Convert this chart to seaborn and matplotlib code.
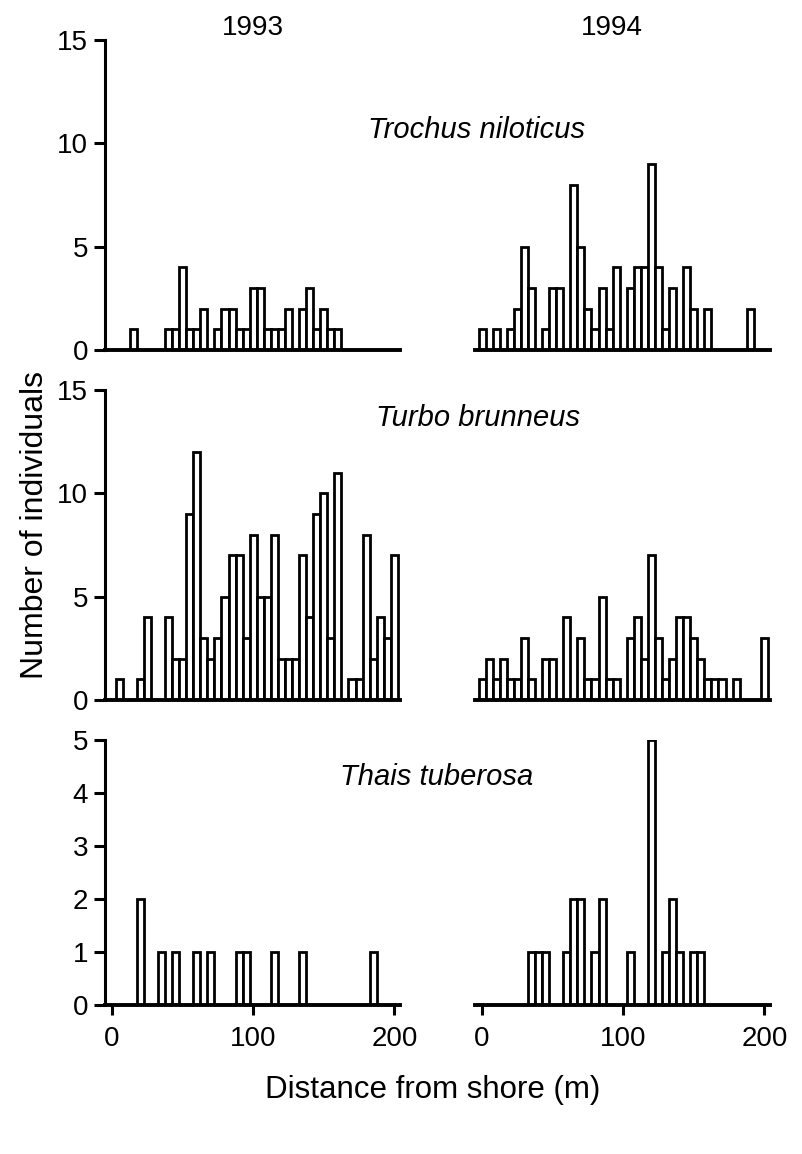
import matplotlib
matplotlib.use("Agg")
import matplotlib.pyplot as plt
import seaborn as sns
import pandas as pd

# ---- data (bins are 5 m classes, 0..200 m) ----
bins = [0, 5, 10, 15, 20, 25, 30, 35, 40, 45, 50, 55, 60, 65, 70, 75, 80, 85, 90, 95,
        100, 105, 110, 115, 120, 125, 130, 135, 140, 145, 150, 155, 160, 165, 170, 175,
        180, 185, 190, 195, 200]

trochus_1993 = [0, 0, 0, 1, 0, 0, 0, 0, 1, 1, 4, 1, 1, 2, 0, 1, 2, 2, 1, 1,
                3, 3, 1, 1, 1, 2, 0, 2, 3, 1, 2, 1, 1, 0, 0, 0, 0, 0, 0, 0, 0]
trochus_1994 = [1, 0, 1, 0, 1, 2, 5, 3, 0, 1, 3, 3, 0, 8, 5, 2, 1, 3, 1, 4,
                0, 3, 4, 4, 9, 4, 1, 3, 0, 4, 2, 0, 2, 0, 0, 0, 0, 0, 2, 0, 0]
turbo_1993 = [0, 1, 0, 0, 1, 4, 0, 0, 4, 2, 2, 9, 12, 3, 2, 3, 5, 7, 7, 3,
              8, 5, 5, 8, 2, 2, 2, 7, 4, 9, 10, 3, 11, 0, 1, 1, 8, 2, 4, 3, 7]
turbo_1994 = [1, 2, 1, 2, 1, 1, 3, 1, 0, 2, 2, 0, 4, 0, 3, 1, 1, 5, 1, 1,
              0, 3, 4, 2, 7, 3, 1, 2, 4, 4, 3, 2, 1, 1, 1, 0, 1, 0, 0, 0, 3]
thais_1993 = [0, 0, 0, 0, 2, 0, 0, 1, 0, 1, 0, 0, 1, 0, 1, 0, 0, 0, 1, 1,
              0, 0, 0, 1, 0, 0, 0, 1, 0, 0, 0, 0, 0, 0, 0, 0, 0, 1, 0, 0, 0]
thais_1994 = [0, 0, 0, 0, 0, 0, 0, 1, 1, 1, 0, 0, 1, 2, 2, 0, 1, 2, 0, 0,
              0, 1, 0, 0, 5, 0, 1, 2, 1, 0, 1, 1, 0, 0, 0, 0, 0, 0, 0, 0, 0]

years = ["1993", "1994"]
species = ["Trochus niloticus", "Turbo brunneus", "Thais tuberosa"]
y_max = [15, 15, 5]
y_ticks = [[0, 5, 10, 15], [0, 5, 10, 15], [0, 1, 2, 3, 4, 5]]
x_ticks = [0, 100, 200]

series = [[trochus_1993, trochus_1994],
          [turbo_1993, turbo_1994],
          [thais_1993, thais_1994]]

# ---- style ----
sns.set_style("ticks")
plt.rcParams["font.family"] = ["Liberation Sans", "DejaVu Sans"]
plt.rcParams["text.color"] = "black"
plt.rcParams["axes.edgecolor"] = "black"
plt.rcParams["xtick.color"] = "black"
plt.rcParams["ytick.color"] = "black"
plt.rcParams["xtick.labelcolor"] = "black"
plt.rcParams["ytick.labelcolor"] = "black"

W, H = 803, 1154
fig = plt.figure(figsize=(W / 100, H / 100), dpi=100)

rows_px = [(40, 350), (390, 700), (740, 1005)]
cols_px = [105, 475]
width_px = 295

for r in range(3):
    top, bot = rows_px[r]
    for c in range(2):
        left = cols_px[c]
        ax = fig.add_axes([left / W, (H - bot) / H, width_px / W, (bot - top) / H])
        df = pd.DataFrame({"dist": bins, "n": series[r][c]})
        sns.barplot(data=df, x="dist", y="n", native_scale=True, width=1.0,
                    color="white", edgecolor="black", linewidth=2.0,
                    saturation=1, errorbar=None, ax=ax)
        ax.set_xlim(-5, 204)
        ax.set_ylim(0, y_max[r])
        ax.set_xlabel("")
        ax.set_ylabel("")
        ax.set_facecolor("none")
        for s in ["top", "right"]:
            ax.spines[s].set_visible(False)
        ax.spines["bottom"].set_linewidth(2.8)
        ax.spines["left"].set_linewidth(2.2)
        if c == 0:
            ax.set_yticks(y_ticks[r])
            ax.tick_params(axis="y", direction="out", length=8, width=2.2,
                           labelsize=20, pad=4)
        else:
            ax.spines["left"].set_visible(False)
            ax.set_yticks([])
        if r == 2:
            ax.set_xticks(x_ticks)
            ax.set_xticklabels([str(v) for v in x_ticks])
            ax.tick_params(axis="x", direction="out", length=7, width=2.2,
                           labelsize=20, pad=8)
        else:
            ax.set_xticks([])

fig.text(253 / W, 1 - 28 / H, years[0], ha="center", va="center", fontsize=20)
fig.text(612 / W, 1 - 28 / H, years[1], ha="center", va="center", fontsize=20)

sp_pos = [(477, 130), (478, 418), (437, 777)]
for name, (px, py) in zip(species, sp_pos):
    fig.text(px / W, 1 - py / H, name, ha="center", va="center",
             fontsize=21, style="italic")

fig.text(35 / W, 1 - 525 / H, "Number of individuals", rotation=90,
         ha="center", va="center", fontsize=23)
fig.text(433 / W, 1 - 1090 / H, "Distance from shore (m)", ha="center",
         va="center", fontsize=22.5)

fig.savefig("out.png", dpi=100, facecolor="white")
